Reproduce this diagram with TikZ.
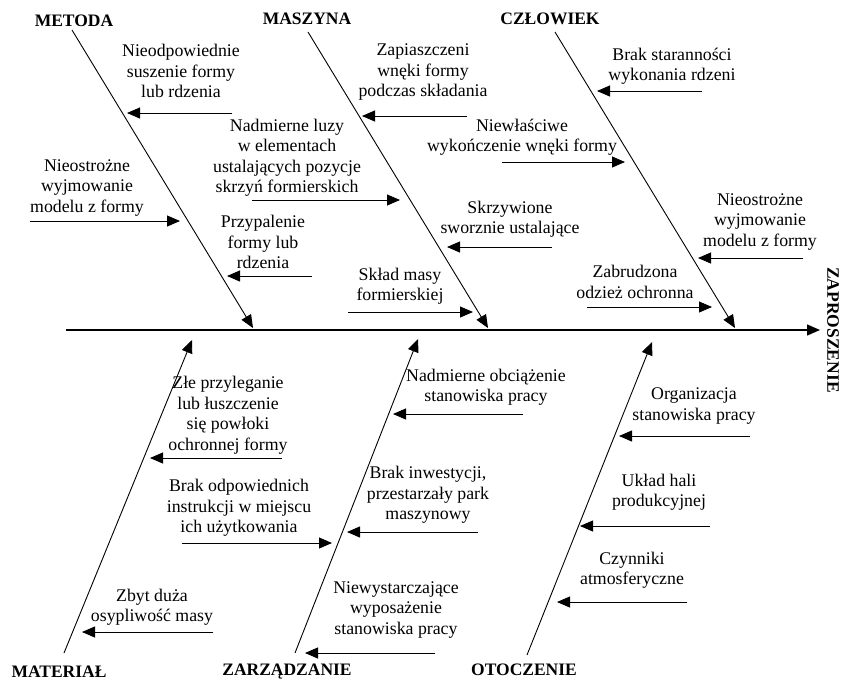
\documentclass[tikz,border=0pt]{standalone}
\usepackage{fontspec}
\setmainfont{Liberation Serif}
\usetikzlibrary{arrows.meta}
\begin{document}
\begin{tikzpicture}[x=1pt,y=-1pt,
  txt/.style={align=center, inner sep=0pt, font=\fontsize{17.8}{20.5}\selectfont},
  cat/.style={inner sep=0pt, font=\bfseries\fontsize{17.5}{20}\selectfont},
  spine/.style={line width=1.3pt, -{Triangle[length=13pt,width=11pt]}},
  bone/.style={line width=0.9pt, -{Triangle[length=13pt,width=11pt]}},
  sub/.style={line width=0.9pt, -{Triangle[length=13pt,width=11pt]}}]
\useasboundingbox (0,0) rectangle (841,681);
% spine
\coordinate (s0) at (66,330);
\coordinate (s1) at (820,330);
\draw[spine] (s0) -- (s1);
\node[cat, rotate=-90] (zap) at (833,330) {ZAPROSZENIE};
% top bones
\node[cat] (metoda) at (74,21) {METODA};
\node[cat] (maszyna) at (307,19) {MASZYNA};
\node[cat] (czlowiek) at (550,19) {CZŁOWIEK};
\coordinate (b1s) at (72,30);  \coordinate (b1e) at (253,328);
\coordinate (b2s) at (308,32); \coordinate (b2e) at (488,328);
\coordinate (b3s) at (555,32); \coordinate (b3e) at (735,328);
\draw[bone] (b1s) -- (b1e);
\draw[bone] (b2s) -- (b2e);
\draw[bone] (b3s) -- (b3e);
% bottom bones
\node[cat] (material) at (59,672) {MATERIAŁ};
\node[cat] (zarzadzanie) at (287,672) {ZARZĄDZANIE};
\node[cat] (otoczenie) at (524,670) {OTOCZENIE};
\coordinate (b4s) at (64,653);  \coordinate (b4e) at (192,340);
\coordinate (b5s) at (295,653); \coordinate (b5e) at (418,339);
\coordinate (b6s) at (527,655); \coordinate (b6e) at (652,342);
\draw[bone] (b4s) -- (b4e);
\draw[bone] (b5s) -- (b5e);
\draw[bone] (b6s) -- (b6e);
% METODA causes
\node[txt] (t1) at (181,71) {Nieodpowiednie\\suszenie formy\\lub rdzenia};
\coordinate (a1s) at (232,113); \coordinate (a1e) at (127,113);
\draw[sub] (a1s) -- (a1e);
\node[txt] (t2) at (87,188) {Nieostrożne\\wyjmowanie\\modelu z formy};
\coordinate (a2s) at (30,221); \coordinate (a2e) at (180,221);
\draw[sub] (a2s) -- (a2e);
\node[txt] (t3) at (263,242) {Przypalenie\\formy lub\\rdzenia};
\coordinate (a3s) at (312,276); \coordinate (a3e) at (227,276);
\draw[sub] (a3s) -- (a3e);
% MASZYNA causes
\node[txt] (t4) at (423,72) {Zapiaszczeni\\wnęki formy\\podczas składania};
\coordinate (a4s) at (467,116); \coordinate (a4e) at (362,116);
\draw[sub] (a4s) -- (a4e);
\node[txt] (t5) at (287,157.5) {Nadmierne luzy\\w elementach\\ustalających pozycje\\skrzyń formierskich};
\coordinate (a5s) at (252,200); \coordinate (a5e) at (400,200);
\draw[sub] (a5s) -- (a5e);
\node[txt] (t6) at (400,286) {Skład masy\\formierskiej};
\coordinate (a6s) at (348,312); \coordinate (a6e) at (473,312);
\draw[sub] (a6s) -- (a6e);
\node[txt] (t7) at (510,219) {Skrzywione\\sworznie ustalające};
\coordinate (a7s) at (552,247); \coordinate (a7e) at (447,247);
\draw[sub] (a7s) -- (a7e);
% CZLOWIEK causes
\node[txt] (t8) at (672,66) {Brak staranności\\wykonania rdzeni};
\coordinate (a8s) at (702,91); \coordinate (a8e) at (597,91);
\draw[sub] (a8s) -- (a8e);
\node[txt] (t9) at (522,137) {Niewłaściwe\\wykończenie wnęki formy};
\coordinate (a9s) at (502,162); \coordinate (a9e) at (625,162);
\draw[sub] (a9s) -- (a9e);
\node[txt] (t10) at (760,222) {Nieostrożne\\wyjmowanie\\modelu z formy};
\coordinate (a10s) at (803,258); \coordinate (a10e) at (698,258);
\draw[sub] (a10s) -- (a10e);
\node[txt] (t11) at (635,282) {Zabrudzona\\odzież ochronna};
\coordinate (a11s) at (587,307); \coordinate (a11e) at (712,307);
\draw[sub] (a11s) -- (a11e);
% MATERIAL causes
\node[txt] (t12) at (228,415) {Złe przyleganie\\lub łuszczenie\\się powłoki\\ochronnej formy};
\coordinate (a12s) at (282,458); \coordinate (a12e) at (150,458);
\draw[sub] (a12s) -- (a12e);
\node[txt] (t13) at (239,508) {Brak odpowiednich\\instrukcji w miejscu\\ich użytkowania};
\coordinate (a13s) at (182,543); \coordinate (a13e) at (332,543);
\draw[sub] (a13s) -- (a13e);
\node[txt] (t14) at (152,607) {Zbyt duża\\osypliwość masy};
\coordinate (a14s) at (213,632); \coordinate (a14e) at (82,632);
\draw[sub] (a14s) -- (a14e);
% ZARZADZANIE causes
\node[txt] (t15) at (486,387) {Nadmierne obciążenie\\stanowiska pracy};
\coordinate (a15s) at (523,414); \coordinate (a15e) at (393,414);
\draw[sub] (a15s) -- (a15e);
\node[txt] (t16) at (428,495) {Brak inwestycji,\\przestarzały park\\maszynowy};
\coordinate (a16s) at (478,532); \coordinate (a16e) at (347,532);
\draw[sub] (a16s) -- (a16e);
\node[txt] (t17) at (396,610) {Niewystarczające\\wyposażenie\\stanowiska pracy};
\coordinate (a17s) at (435,653); \coordinate (a17e) at (305,653);
\draw[sub] (a17s) -- (a17e);
% OTOCZENIE causes
\node[txt] (t18) at (694,406) {Organizacja\\stanowiska pracy};
\coordinate (a18s) at (750,436); \coordinate (a18e) at (619,436);
\draw[sub] (a18s) -- (a18e);
\node[txt] (t19) at (659,492) {Układ hali\\produkcyjnej};
\coordinate (a19s) at (710,526); \coordinate (a19e) at (580,526);
\draw[sub] (a19s) -- (a19e);
\node[txt] (t20) at (632,570) {Czynniki\\atmosferyczne};
\coordinate (a20s) at (687,602); \coordinate (a20e) at (557,602);
\draw[sub] (a20s) -- (a20e);
\end{tikzpicture}
\end{document}
